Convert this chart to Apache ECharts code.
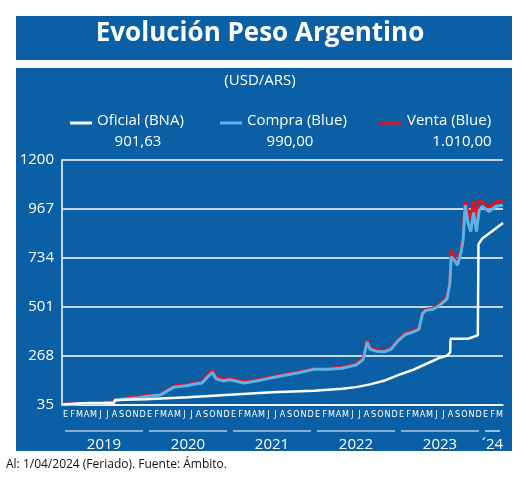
<!DOCTYPE html>
<html><head><meta charset="utf-8">
<script src="https://cdn.jsdelivr.net/npm/echarts@6/dist/echarts.min.js"></script>
<style>html,body{margin:0;padding:0;background:#fff}#c{width:520px;height:485px}</style>
</head><body><div id="c"></div>
<script>
const monthLetters = ["E","F","M","A","M","J","J","A","S","O","N","D"];
const years = ["2019","2020","2021","2022","2023","´24"];
const yTicks = [35,268,501,734,967,1200];
const legendNames = ["Oficial (BNA)","Compra (Blue)","Venta (Blue)"];
const legendValues = ["901,63","990,00","1.010,00"];
// x = months since Jan 2019
const oficial = [[0,37],[3,43],[6,44],[7.4,45],[7.6,58],[9,60],[12,62],[18,72],[24,84],[30,96],[36,103],[40,112],[42,120],[44,133],[46,150],[48,177],[50,200],[52,230],[54,260],[55,270],[55.45,285],[55.5,350],[58,350],[59.4,366],[59.5,800],[60,825],[61,850],[62,875],[63,900]];
const compra = [[0,37],[2,40],[4,44],[6,44],[7.4,47],[7.6,60],[9,63],[11,70],[12,75],[14,82],[16,120],[18,128],[19,135],[20,140],[21,175],[21.5,190],[22,160],[23,150],[24,155],[26,140],[28,150],[30,165],[32,178],[34,190],[36,205],[38,205],[40,210],[42,225],[43,250],[43.6,335],[44,300],[45,290],[46,288],[47,300],[48,340],[49,370],[50,380],[51,395],[51.5,470],[52,485],[53,490],[54,510],[55,540],[55.4,610],[55.6,740],[56,725],[56.5,700],[57,760],[57.3,820],[57.6,985],[58,900],[58.4,860],[58.8,950],[59.2,860],[59.6,960],[60,980],[61,955],[62,980],[63,985]];
const venta = [[0,38],[2,42],[4,46],[6,46],[7.4,50],[7.6,63],[9,67],[11,75],[12,80],[14,86],[16,125],[18,133],[19,140],[20,147],[21,185],[21.5,200],[22,170],[23,160],[24,163],[26,146],[28,156],[30,170],[32,183],[34,195],[36,208],[38,209],[40,215],[42,232],[43,260],[43.6,345],[44,310],[45,296],[46,295],[47,305],[48,345],[49,378],[50,387],[51,400],[51.5,477],[52,490],[53,495],[54,518],[55,550],[55.4,620],[55.6,770],[56,740],[56.5,715],[57,775],[57.3,840],[57.6,1000],[58,960],[58.4,920],[58.8,1005],[59.2,930],[59.6,1010],[60,1000],[61,975],[62,1000],[63,1005]];
const cats = [];
for (let y=0;y<5;y++) monthLetters.forEach(m=>cats.push(m));
cats.push("E","F","M");

const BG = "#0b5fa5";
const font = "'Open Sans', 'Liberation Sans', sans-serif";
const chart = echarts.init(document.getElementById('c'));
const legendColors = ["#ffffff","#5ab4e8","#e8101e"];
const legendLineX = [70,220,380];
const legendValX = [138,290,462];
chart.setOption({
  backgroundColor:"#fff",
  animation:false,
  graphic:[
    {type:'rect',shape:{x:16,y:16,width:496,height:44},style:{fill:BG},z:-10},
    {type:'rect',shape:{x:16,y:68,width:496,height:383},style:{fill:BG},z:-10},
    {type:'text',left:'center',top:21,style:{text:"Evolución Peso Argentino",fill:"#fff",font:"bold 26px "+font}},
    {type:'text',left:'center',top:73,style:{text:"(USD/ARS)",fill:"#fff",font:"15px "+font}},
    {type:'text',left:6,top:459,style:{text:"Al: 1/04/2024 (Feriado). Fuente: Ámbito.",fill:"#111",font:"12px "+font}},
    ...[0,1,2].flatMap(i=>[
        {type:'line',shape:{x1:legendLineX[i],y1:123,x2:legendLineX[i]+22,y2:123},style:{stroke:legendColors[i],lineWidth:3}},
        {type:'text',x:legendLineX[i]+27,y:113,style:{text:legendNames[i],fill:"#fff",font:"15px "+font}},
        {type:'text',x:legendValX[i],y:134,style:{text:legendValues[i],fill:"#fff",font:"15px "+font,align:'center'}}
    ])
  ],
  grid:{left:62,right:17,top:160,bottom:80},
  xAxis:[
    {type:'value',min:0,max:63,show:false},
    {type:'category',data:cats,position:'bottom',boundaryGap:true,
     axisLine:{lineStyle:{color:'#fff',width:1.5}},axisTick:{show:false},
     axisLabel:{color:'#fff',interval:0,hideOverlap:false,fontSize:9,margin:5,fontFamily:"'Liberation Sans Narrow','DejaVu Sans Condensed',sans-serif"}}
  ],
  yAxis:{type:'value',min:35,max:1200,interval:233,
    axisLine:{show:true,lineStyle:{color:'#fff',width:1.5}},axisTick:{show:false},
    splitLine:{lineStyle:{color:'#fff',width:1.5}},
    axisLabel:{color:'#fff',fontSize:15,fontFamily:font,margin:8,formatter:v=>String(v)}},
  series:[
    {type:'line',data:venta,xAxisIndex:0,symbol:'none',lineStyle:{color:'#e8101e',width:3}},
    {type:'line',data:compra,xAxisIndex:0,symbol:'none',lineStyle:{color:'#5ab4e8',width:3}},
    {type:'line',data:oficial,xAxisIndex:0,symbol:'none',lineStyle:{color:'#ffffff',width:2.5}}
  ]
});
const extra=[];
const spans=[[0,12],[12,24],[24,36],[36,48],[48,60],[60,63]];
spans.forEach((s,i)=>{
  const a=chart.convertToPixel({xAxisIndex:0},s[0])+3;
  const b=chart.convertToPixel({xAxisIndex:0},s[1])-3;
  extra.push({type:'line',shape:{x1:a,y1:431,x2:b,y2:431},style:{stroke:'#fff',lineWidth:1.2}});
  extra.push({type:'text',x:(a+b)/2,y:437,style:{text:years[i],fill:'#fff',font:"15px "+font,align:'center'}});
});
chart.setOption({graphic:extra.map((e,i)=>Object.assign({id:'yr'+i},e))});
</script></body></html>
